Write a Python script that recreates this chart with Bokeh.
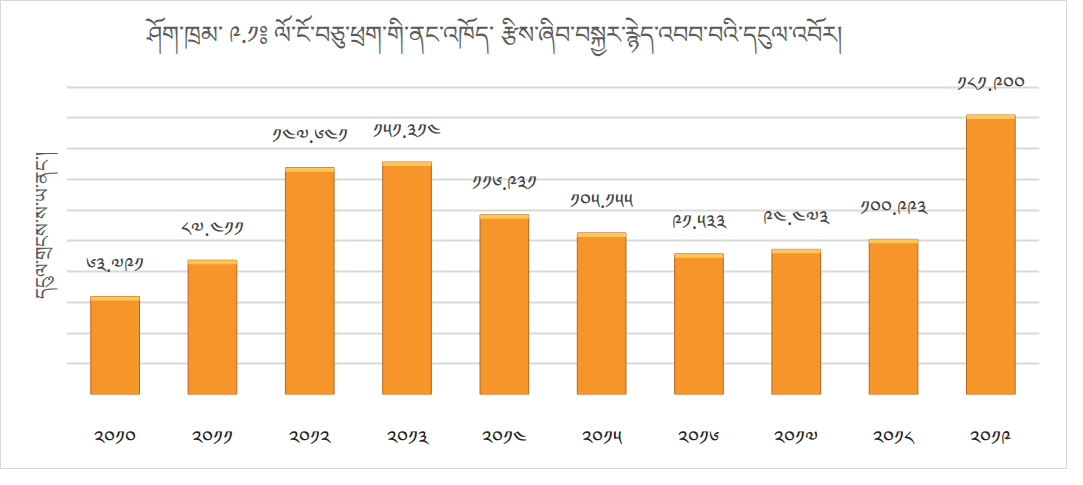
from bokeh.plotting import figure
from bokeh.models import ColumnDataSource, FixedTicker, Title
from bokeh.core.properties import value
from bokeh.embed import file_html
from bokeh.resources import INLINE

years = [2010, 2011, 2012, 2013, 2014, 2015, 2016, 2017, 2018, 2019]
amounts = [63.791, 87.411, 147.641, 151.314, 116.931, 105.155, 91.533, 94.473, 100.993, 181.900]
grid_ticks = [0, 20, 40, 60, 80, 100, 120, 140, 160, 180, 200]
title_text = "ཤོག་ཁྲམ་ ༩.༡༔ ལོ་ངོ་བཅུ་ཕྲག་གི་ནང་འཁོད་ རྩིས་ཞིབ་བསྐྱར་རྙེད་འབབ་བའི་དངུལ་འབོར།"
ylabel_text = "དངུལ་གྲངས་ས་ཡ་ནང་།"

TIB = "༠༡༢༣༤༥༦༧༨༩"
def tib(s):
    return "".join(TIB[int(c)] if c.isdigit() else c for c in s)

cats = [tib(str(y)) for y in years]
labels = [tib(f"{v:.3f}") for v in amounts]
bevel = [v - 2.6 for v in amounts]

src = ColumnDataSource(dict(cat=cats, val=amounts, lab=labels, bev=bevel))

FONT = "Noto Sans"

p = figure(width=1067, height=469, x_range=cats, y_range=(0, 220),
           output_backend="svg", toolbar_location=None,
           min_border_left=65, min_border_right=29, min_border_top=55, min_border_bottom=76)
p.outline_line_color = None
p.styles = {"border": "1px solid #d9d9d9", "box-sizing": "border-box"}

p.vbar(x="cat", top="val", width=0.5, source=src, fill_color="#F5952A",
       line_color="#B8651C", line_width=1)
p.vbar(x="cat", top="val", bottom="bev", width=0.5, source=src, fill_color="#FFC558",
       line_color=None)
p.text(x="cat", y="val", text="lab", source=src, text_align="center",
       text_baseline="middle", y_offset=-32, text_font=value(FONT),
       text_font_size="20px", text_color="#404040")

p.ygrid.ticker = FixedTicker(ticks=grid_ticks)
p.ygrid.grid_line_color = "#d9d9d9"
p.ygrid.grid_line_width = 2
p.xgrid.grid_line_color = None

p.yaxis.ticker = FixedTicker(ticks=grid_ticks)
p.yaxis.major_label_text_font_size = "0px"
p.yaxis.major_tick_line_color = None
p.yaxis.minor_tick_line_color = None
p.yaxis.axis_line_color = None
p.yaxis.axis_label = ylabel_text
p.yaxis.axis_label_text_font = FONT
p.yaxis.axis_label_text_font_size = "19px"
p.yaxis.axis_label_text_font_style = "normal"
p.yaxis.axis_label_text_color = "#595959"
p.yaxis.axis_label_standoff = 6

p.xaxis.axis_line_color = None
p.xaxis.major_tick_line_color = None
p.xaxis.minor_tick_line_color = None
p.xaxis.major_label_standoff = 23
p.xaxis.major_label_text_font = FONT
p.xaxis.major_label_text_font_size = "20px"
p.xaxis.major_label_text_color = "#222222"
p.x_range.range_padding = 0

t = Title(text=title_text, align="left", offset=80, text_font=FONT,
          text_font_size="24px", text_font_style="normal", text_color="#595959",
          standoff=14)
p.add_layout(t, "above")

open("out.html", "w").write(file_html(p, INLINE))
